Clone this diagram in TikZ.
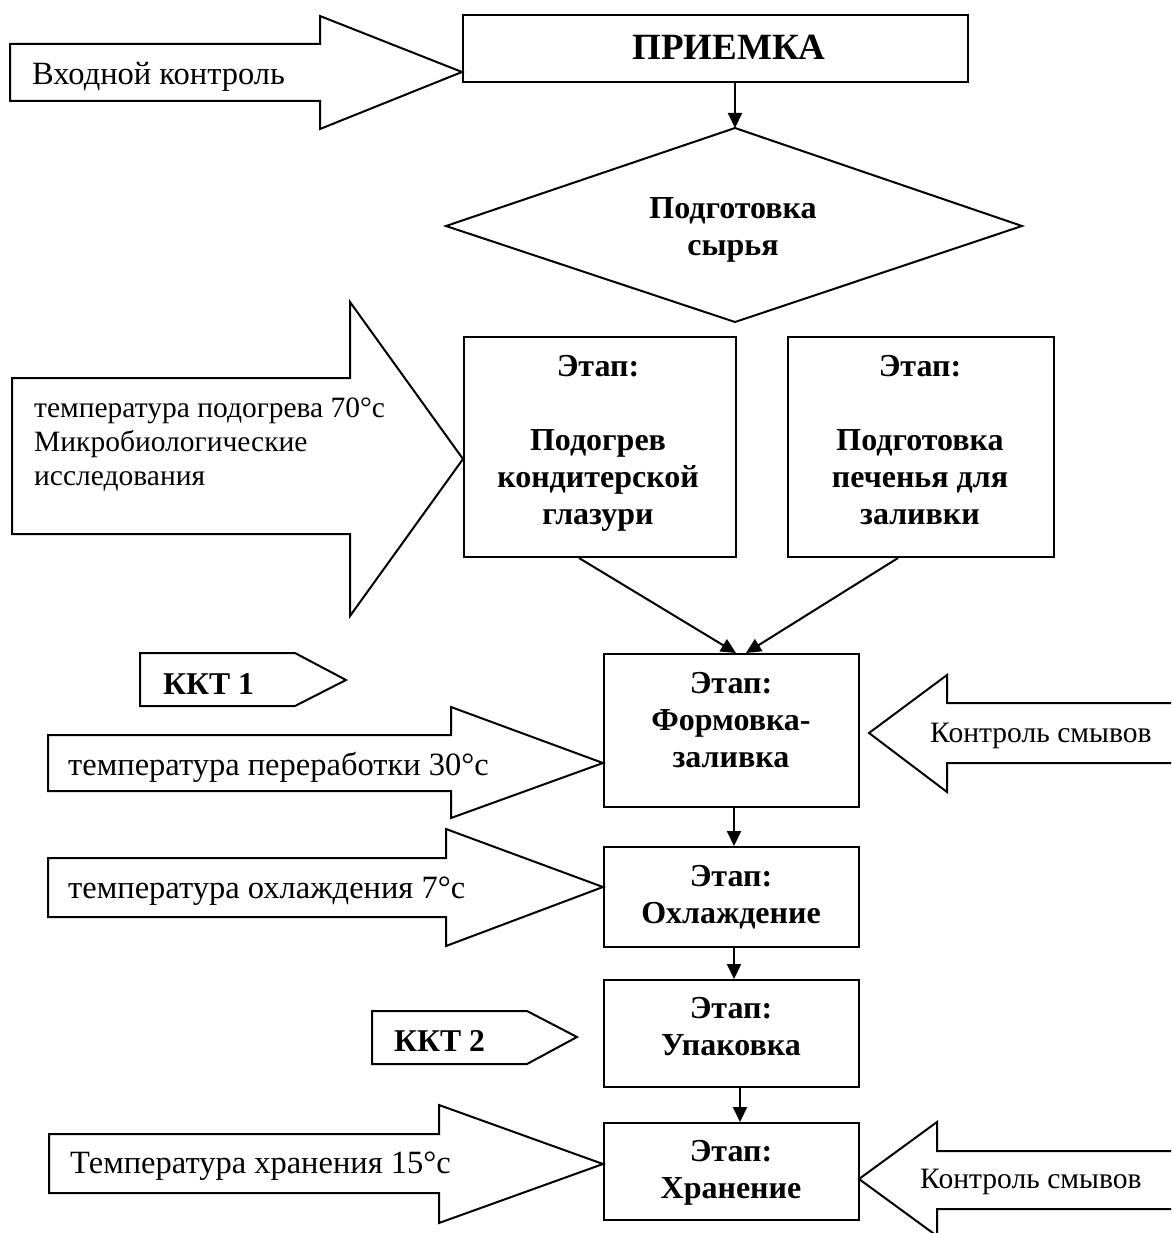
\documentclass[tikz,border=0pt]{standalone}
\usepackage{fontspec}
\setmainfont{Liberation Serif}
\usetikzlibrary{arrows.meta}
\begin{document}
\begin{tikzpicture}[x=1pt,y=-1pt,
  ln/.style={draw, line width=2pt, line join=miter},
  boxn/.style={draw, line width=2pt, inner sep=0pt, anchor=north west},
  arr/.style={line width=2pt, -{Triangle[length=15pt,width=14pt]}},
  rtxt/.style={inner sep=0pt, anchor=base west, font=\fontsize{32.5}{34}\selectfont},
  btxt/.style={inner sep=0pt, anchor=base, align=center, font=\fontsize{32}{37}\selectfont\bfseries}
]
\useasboundingbox (0,0) rectangle (1171,1233);
\clip (0,0) rectangle (1171,1233);

% ---- boxes ----
\node[boxn, minimum width=505pt, minimum height=67pt] (priemka) at (462,14) {};
\node[boxn, minimum width=272pt, minimum height=220pt] (b1) at (463,336) {};
\node[boxn, minimum width=266pt, minimum height=220pt] (b2) at (787,336) {};
\node[boxn, minimum width=255pt, minimum height=153pt] (form) at (603,653) {};
\node[boxn, minimum width=255pt, minimum height=100pt] (cool) at (603,846) {};
\node[boxn, minimum width=255pt, minimum height=107pt] (pack) at (603,979) {};
\node[boxn, minimum width=255pt, minimum height=97pt] (store) at (603,1122) {};

% ---- diamond ----
\coordinate (dtop) at (735,128);
\draw[ln] (dtop) -- (1022,226) -- (735,322) -- (446,226) -- cycle;

% ---- block arrows ----
\draw[ln] (10,44) -- (320,44) -- (320,16) -- (462,72) -- (320,129) -- (320,101) -- (10,101) -- cycle;
\draw[ln] (12,378) -- (350,378) -- (350,302) -- (463,459) -- (350,616) -- (350,534) -- (12,534) -- cycle;
\draw[ln] (140,653) -- (295,653) -- (346,680) -- (295,706) -- (140,706) -- cycle;
\draw[ln] (48,735) -- (451,735) -- (451,707) -- (603,763) -- (451,818) -- (451,791) -- (48,791) -- cycle;
\draw[ln] (48,858) -- (446,858) -- (446,829) -- (603,887) -- (446,946) -- (446,917) -- (48,917) -- cycle;
\draw[ln] (1185,703) -- (947,703) -- (947,675) -- (869,733) -- (947,792) -- (947,763) -- (1185,763);
\draw[ln] (372,1011) -- (527,1011) -- (577,1037) -- (527,1064) -- (372,1064) -- cycle;
\draw[ln] (49,1134) -- (439,1134) -- (439,1105) -- (603,1164) -- (439,1223) -- (439,1193) -- (49,1193) -- cycle;
\draw[ln] (1185,1151) -- (937,1151) -- (937,1122) -- (859,1179) -- (937,1236) -- (937,1209) -- (1185,1209);

% ---- texts (anchor = baseline of the last line) ----
\node[btxt, font=\fontsize{37}{40}\selectfont\bfseries] (tpriemka) at (729,60) {ПРИЕМКА};
\node[btxt] (tdia) at (733,255) {Подготовка\\сырья};
\node[btxt] (tb1) at (598,524) {Этап:\\[37pt]Подогрев\\кондитерской\\глазури};
\node[btxt] (tb2) at (920,524) {Этап:\\[37pt]Подготовка\\печенья для\\заливки};
\node[btxt] (tform) at (731,767) {Этап:\\Формовка-\\заливка};
\node[btxt] (tcool) at (731,923) {Этап:\\Охлаждение};
\node[btxt] (tpack) at (731,1055) {Этап:\\Упаковка};
\node[btxt] (tstore) at (731,1198) {Этап:\\Хранение};

\node[rtxt] (tin) at (32,85) {Входной контроль};
\node[rtxt, align=left, font=\fontsize{29.5}{34}\selectfont] (theat) at (34,485) {температура подогрева 70°с\\Микробиологические\\исследования};
\node[rtxt] (t30) at (68,775) {температура переработки 30°с};
\node[rtxt] (t7) at (68,898) {температура охлаждения 7°с};
\node[rtxt] (t15) at (70,1173) {Температура хранения 15°с};
\node[rtxt, font=\fontsize{29.6}{34}\selectfont] (tk1) at (930,742) {Контроль смывов};
\node[rtxt, font=\fontsize{29.6}{34}\selectfont] (tk2) at (920,1188) {Контроль смывов};
\node[rtxt, font=\fontsize{31.7}{34}\selectfont\bfseries] (tkkt1) at (163,694) {ККТ 1};
\node[rtxt, font=\fontsize{31.7}{34}\selectfont\bfseries] (tkkt2) at (394,1051) {ККТ 2};

% ---- connectors ----
\draw[arr] ([xshift=19.5pt]priemka.south) -- (dtop);
\draw[arr] ([xshift=-21pt]b1.south) -- ([xshift=4.5pt]form.north);
\draw[arr] ([xshift=-23pt]b2.south) -- ([xshift=14.5pt]form.north);
\draw[arr] ([xshift=2.5pt]form.south) -- ([xshift=2.5pt]cool.north);
\draw[arr] ([xshift=2.5pt]cool.south) -- ([xshift=2.5pt]pack.north);
\draw[arr] ([xshift=8.5pt]pack.south) -- ([xshift=8.5pt]store.north);
\end{tikzpicture}
\end{document}
